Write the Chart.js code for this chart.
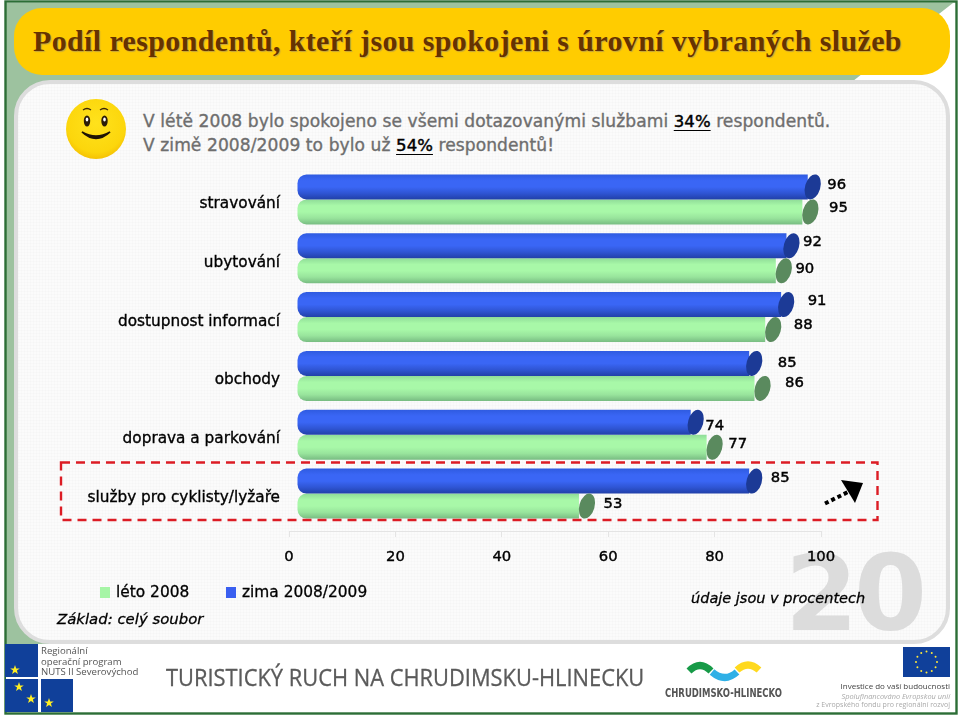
<!DOCTYPE html>
<html lang="cs"><head><meta charset="utf-8">
<title>Podíl respondentů</title>
<script src="https://cdn.jsdelivr.net/npm/chart.js@4"></script>
<style>
html,body{margin:0;padding:0;background:#fff;width:960px;height:716px;overflow:hidden}
#stage{position:relative;width:960px;height:716px;overflow:hidden;font-family:"DejaVu Sans",sans-serif}
#stage>*{position:absolute}
.t{white-space:nowrap;color:#000;line-height:1}
.lead{font-size:17.1px;color:#6e6e6e;-webkit-text-stroke:.35px #6e6e6e;letter-spacing:.07px}
.lead span{color:#000;font-size:16.5px;-webkit-text-stroke:.45px #000;text-decoration:underline;text-underline-offset:3px}
canvas{left:0;top:0}
</style></head><body>
<div id="stage">
<svg width="960" height="716" style="left:0;top:0">
  <polygon points="6,3 953,3 853,81 100,644 6,644" fill="#9dc29f"/>
  <rect x="5.5" y="1.5" width="951" height="712" fill="none" stroke="#2c6e36" stroke-width="2.4"/>
</svg>
<div style="left:14px;top:8px;width:936px;height:67px;border-radius:28px;background:#ffcc00"></div>
<div style="left:14px;top:80px;width:936px;height:564px;box-sizing:border-box;border:4px solid #dddddd;border-radius:36px;background-color:#fbfbfb;background-image:linear-gradient(rgba(0,0,0,.012) 1px,transparent 1px),linear-gradient(90deg,rgba(0,0,0,.012) 1px,transparent 1px);background-size:3px 3px"></div>
<div style="left:6px;top:644px;width:949px;height:68px;background:#fff"></div>
<div class="t" id="title" style="left:33px;top:24px;font:bold 30px 'Liberation Serif',serif;letter-spacing:.37px;color:#663300;text-shadow:1px 1px 1px #c4a63c">Podíl respondentů, kteří jsou spokojeni s úrovní vybraných služeb</div>

<svg width="70" height="70" style="left:60px;top:95px">
  <defs><radialGradient id="sm" cx=".5" cy=".4" r=".65"><stop offset="0" stop-color="#ffe21c"/><stop offset=".75" stop-color="#fcd60c"/><stop offset="1" stop-color="#f2b900"/></radialGradient></defs>
  <circle cx="36" cy="34" r="30" fill="url(#sm)"/>
  <ellipse cx="27" cy="26" rx="3.2" ry="5.5" fill="#2b1c08"/><ellipse cx="27" cy="24.5" rx="1.3" ry="2" fill="#fff"/>
  <ellipse cx="44.500" cy="26" rx="3.2" ry="5.5" fill="#2b1c08"/><ellipse cx="44.500" cy="24.5" rx="1.3" ry="2" fill="#fff"/>
  <path d="M23 15 Q27 12 31 15 M40 15 Q44 12 48 15" fill="none" stroke="#3a2608" stroke-width="1.3"/>
  <path d="M22 37 Q36 50 50 37 Q36 45 22 37Z" fill="#1f1405" stroke="#1f1405" stroke-width="1.6"/>
</svg>

<div class="t lead" style="left:143px;top:113px">V létě 2008 bylo spokojeno se všemi dotazovanými službami <span>34%</span> respondentů.</div>
<div class="t lead" style="left:143px;top:137px">V zimě 2008/2009 to bylo už <span>54%</span> respondentů!</div>

<div class="t" style="left:785px;top:533px;font:bold 105px 'DejaVu Sans',sans-serif;color:#dcdcdc;letter-spacing:-4px">20</div>

<canvas id="c" width="960" height="716" style="width:960px;height:716px"></canvas>

<svg width="960" height="716" style="left:0;top:0;pointer-events:none">
  <rect x="61" y="462.500" width="816.500" height="57.500" fill="none" stroke="#dc1c24" stroke-width="2.400" stroke-dasharray="9 6"/>
  <line x1="825" y1="503.500" x2="848" y2="492" stroke="#000" stroke-width="4" stroke-dasharray="4 3"/>
  <polygon points="841,480 863,483 855,503" fill="#000"/>
  <g fill="#10409a">
    <rect x="5" y="644" width="33" height="33"/><rect x="5" y="679" width="33" height="33"/><rect x="41" y="679" width="32" height="33"/>
  </g>
  <defs><polygon id="star" points="0,-5 1.18,-1.55 4.76,-1.55 1.9,.62 2.94,4.05 0,2 -2.94,4.05 -1.9,.62 -4.76,-1.55 -1.18,-1.55" fill="#ffee22"/></defs>
  <use href="#star" x="15" y="670"/><use href="#star" x="19" y="687"/><use href="#star" x="31" y="699"/><use href="#star" x="49" y="703"/>
  <path d="M689 671 Q700 660 711 671" fill="none" stroke="#179a47" stroke-width="7"/>
  <path d="M712 672 Q725 683 737 672" fill="none" stroke="#2fb0e6" stroke-width="7"/>
  <path d="M737 670 Q748 660 759 670" fill="none" stroke="#ffd91e" stroke-width="7"/>
  <rect x="903" y="647" width="47" height="30" fill="#10409a"/>
  <g id="ring" fill="#ffe93a"></g>
</svg>

<div class="t" style="left:116px;top:585px;font-size:15.4px;-webkit-text-stroke:.3px #000">léto 2008</div>
<div style="left:100px;top:587px;width:10px;height:11px;background:#a6f5a6"></div>
<div class="t" style="left:242px;top:585px;font-size:15.4px;-webkit-text-stroke:.3px #000">zima 2008/2009</div>
<div style="left:226px;top:587px;width:10px;height:11px;background:#3a5ff0"></div>
<div class="t" style="left:57px;top:612px;font-size:14.9px;font-style:italic;-webkit-text-stroke:.3px #000">Základ: celý soubor</div>
<div class="t" style="left:691px;top:591px;font-size:14.5px;font-style:italic;-webkit-text-stroke:.3px #000">údaje jsou v procentech</div>

<div class="t" style="left:41px;top:646px;font:9.6px/10.500px 'Open Sans',sans-serif;color:#555;white-space:pre">Regionální
operační program
NUTS II Severovýchod</div>
<div class="t" style="left:166px;top:661px;font:23.5px 'Open Sans',sans-serif;color:#5a5a5a;-webkit-text-stroke:.3px #5a5a5a;transform:scaleX(.93);transform-origin:0 0">TURISTICKÝ RUCH NA CHRUDIMSKU-HLINECKU</div>
<div class="t" style="left:665px;top:685px;font:bold 12.500px 'DejaVu Sans',sans-serif;color:#555;transform:scaleX(.68);transform-origin:0 0">CHRUDIMSKO-HLINECKO</div>
<div class="t" style="right:10px;top:680px;font:8px 'Open Sans',sans-serif;color:#444">Investice do vaší budoucnosti</div>
<div class="t" style="right:10px;top:691px;font:italic 7.4px 'Open Sans',sans-serif;color:#aaa">Spolufinancováno Evropskou unií</div>
<div class="t" style="right:10px;top:699.500px;font:7px 'Open Sans',sans-serif;color:#aaa">z Evropského fondu pro regionální rozvoj</div>
</div>
<script>
const categories = ["stravování","ubytování","dostupnost informací","obchody","doprava a parkování","služby pro cyklisty/lyžaře"];
const zima = [96,92,91,85,74,85];
const leto = [95,90,88,86,77,53];
const tickValues = [0,20,40,60,80,100];
const seriesNames = ["zima 2008/2009","léto 2008"];

const ring=document.getElementById('ring');
for(let i=0;i<12;i++){const a=i*Math.PI/6,c=document.createElementNS('http://www.w3.org/2000/svg','circle');
  c.setAttribute('cx',926.5+10.500*Math.cos(a));c.setAttribute('cy',662+10.500*Math.sin(a));c.setAttribute('r',1);ring.appendChild(c);}

/* hand placement of the value labels relative to the bar end, [dx,dy] */
const nudge = [
  [[24,-2],[21,-4],[31,-3],[33,0],[19,4],[26,-3]],
  [[31,-4],[24,-2],[33,-4],[35,-5],[26,-3],[29,-2]]
];
const DX=8, DY=-8, CAP=5, CAPS_X=[5,8];
function gradient(ctx,y0,y1,stops){const g=ctx.createLinearGradient(0,y0,0,y1);stops.forEach((s,i)=>g.addColorStop(i/(stops.length-1),s));return g;}
const blueStops=['#2f5be0','#3a66f5','#3a66f5','#2f55d4','#2140a8'];
const greenStops=['#8fdc98','#a8f8a8','#a8f8a8','#98e49c','#78bc82'];
function barFill(stops,flat,upper){return c=>{
  const sc=c.chart.scales&&c.chart.scales.y; if(!sc||sc.getPixelForValue(0)==null||isNaN(sc.getPixelForValue(0)))return flat;
  const yc=sc.getPixelForValue(c.dataIndex),h=25;
  return upper?gradient(c.chart.ctx,yc-h,yc,stops):gradient(c.chart.ctx,yc,yc+h,stops);
};}
const oblique={id:'oblique',
  beforeDatasetsDraw(ch){ch.ctx.save();ch.ctx.translate(DX,DY);},
  afterDatasetsDraw(ch){
    const ctx=ch.ctx;
    const caps=['#1c3a96','#5a8a5e'];
    [0,1].forEach(d=>ch.getDatasetMeta(d).data.forEach((b,i)=>{
      ctx.save();ctx.translate(b.x+CAPS_X[d],b.y);ctx.rotate(16*Math.PI/180);
      ctx.beginPath();ctx.ellipse(0,0,7.6,12.8,0,0,2*Math.PI);ctx.fillStyle=caps[d];ctx.fill();ctx.restore();
    }));
    ctx.restore();
    ctx.save();ctx.font='14.8px "DejaVu Sans"';ctx.textAlign='center';ctx.textBaseline='middle';ctx.fillStyle='#000';ctx.strokeStyle='#000';ctx.lineWidth=.45;
    [0,1].forEach(d=>ch.getDatasetMeta(d).data.forEach((b,i)=>{
      const v=ch.data.datasets[d].data[i],x=b.x+DX+CAP+nudge[d][i][0],y=b.y+DY+nudge[d][i][1];
      ctx.fillText(v,x,y);ctx.strokeText(v,x,y);
    }));
    ctx.restore();
  }};
new Chart(document.getElementById('c'),{
  type:'bar',
  plugins:[oblique],
  data:{labels:categories,datasets:[
    {label:seriesNames[0],data:zima,backgroundColor:barFill(blueStops,'#3a66f5',true),borderSkipped:false,borderWidth:0,borderRadius:{topLeft:9,bottomLeft:9,topRight:0,bottomRight:0}},
    {label:seriesNames[1],data:leto,backgroundColor:barFill(greenStops,'#a8f8a8',false),borderSkipped:false,borderWidth:0,borderRadius:{topLeft:9,bottomLeft:9,topRight:0,bottomRight:0}}
  ]},
  options:{
    indexAxis:'y',responsive:false,animation:false,
    layout:{padding:{left:0,top:178,right:139,bottom:0}},
    plugins:{legend:{display:false},title:{display:false},tooltip:{enabled:false}},
    datasets:{bar:{categoryPercentage:.85,barPercentage:1}},
    scales:{
      y:{offset:true,afterFit(s){s.width=289;},
        grid:{display:false},border:{display:false},
        ticks:{color:'#000',padding:1,font:{family:'"DejaVu Sans"',size:15.3,lineHeight:'7px'},textStrokeColor:'#000',textStrokeWidth:.35,autoSkip:false,
          callback(v){return [this.getLabelForValue(v),''];}}},
      x:{min:0,max:100,afterFit(s){s.height=185;},
        afterBuildTicks(s){s.ticks=tickValues.map(v=>({value:v}));},
        grid:{drawOnChartArea:false,color:'#e4e4e4',tickLength:6},border:{color:'#e4e4e4'},
        ticks:{color:'#000',padding:11,maxRotation:0,font:{family:'"DejaVu Sans"',size:14.8},textStrokeColor:'#000',textStrokeWidth:.4}}
    }
  }
});
</script>
</body></html>
